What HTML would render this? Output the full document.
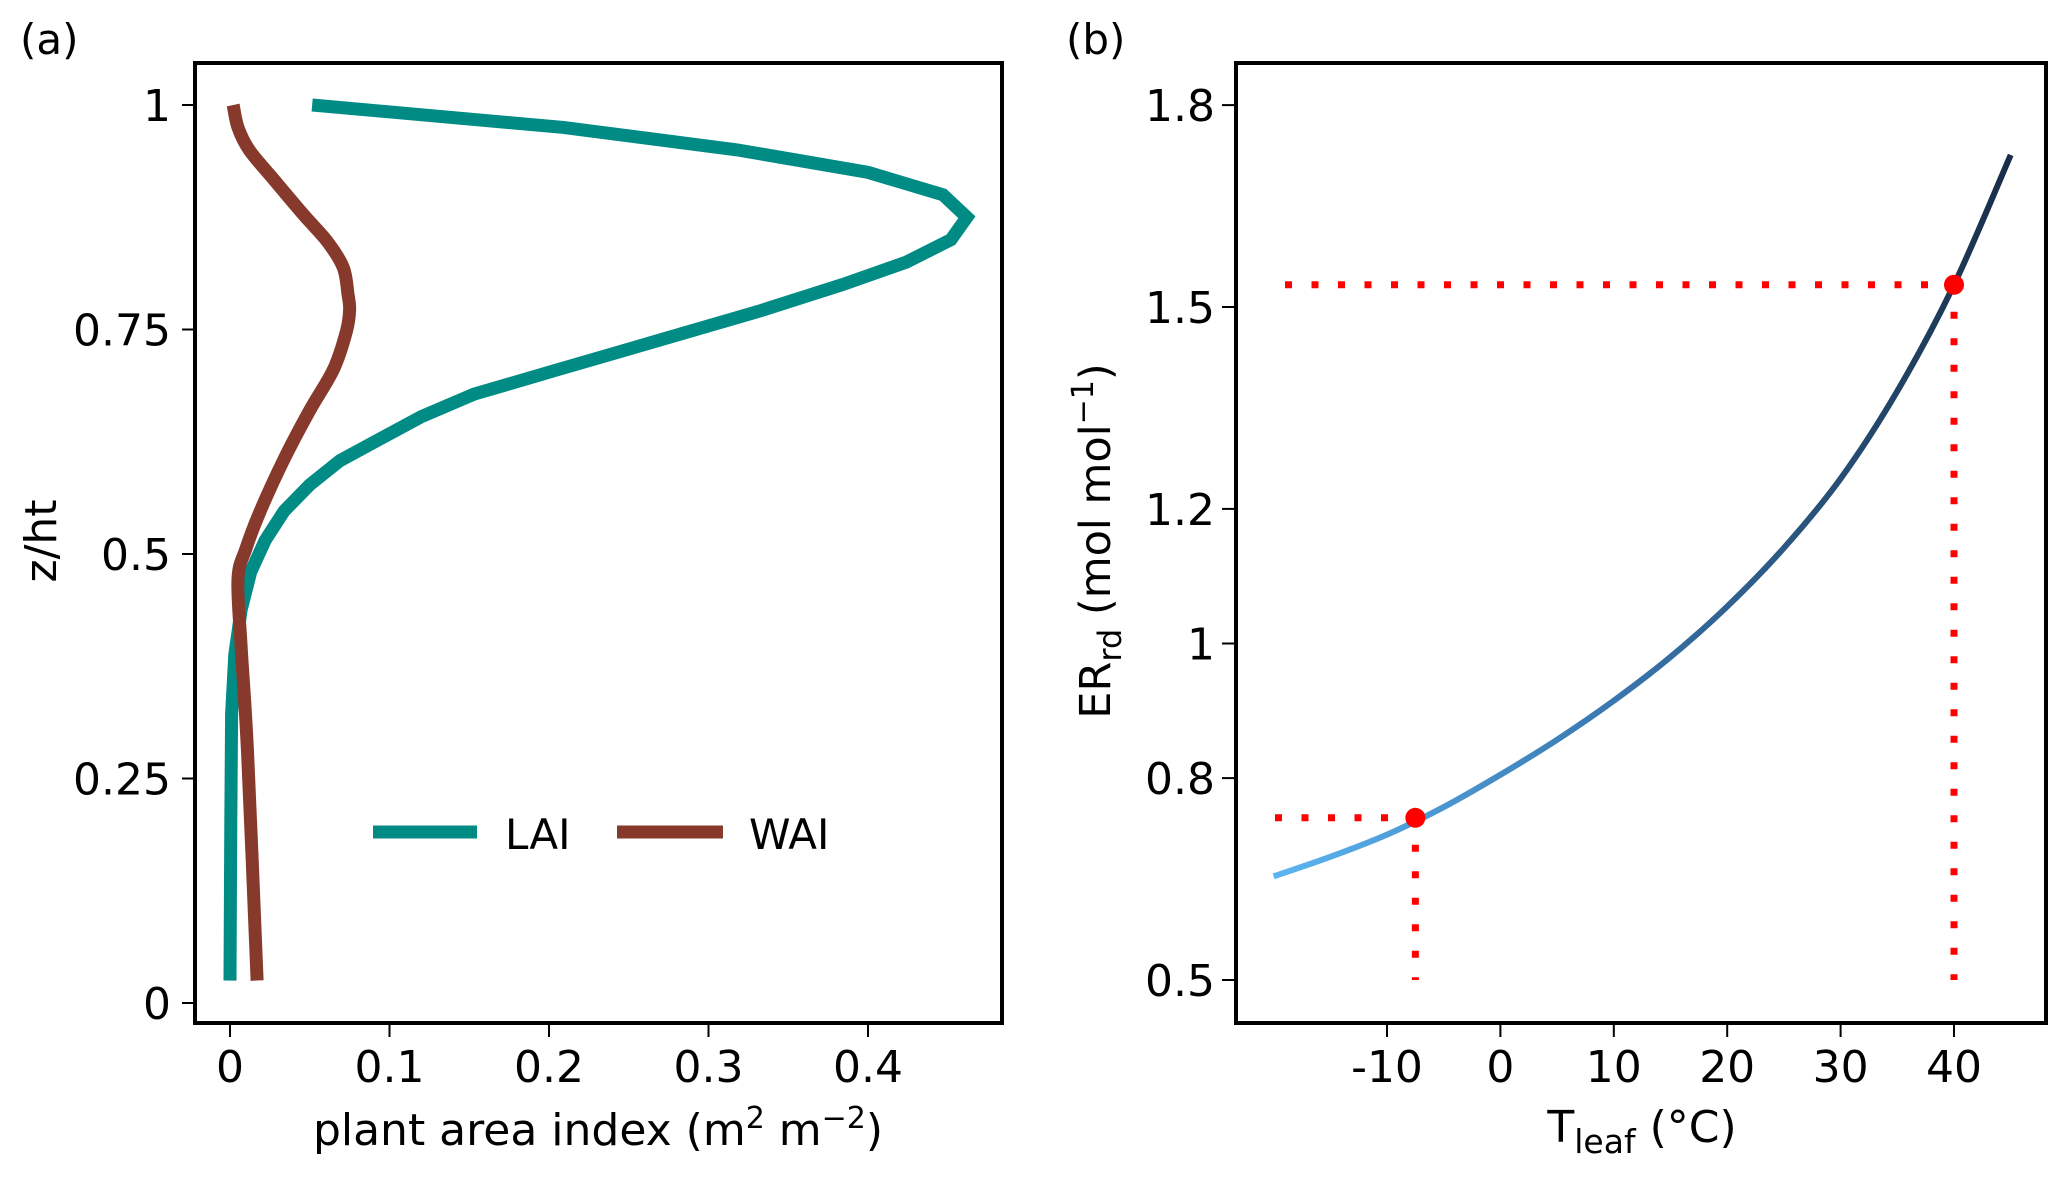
<!DOCTYPE html>
<html><head><meta charset="utf-8"><style>
html,body{margin:0;padding:0;background:#fff;}
svg text{font-family:"DejaVu Sans","Liberation Sans",sans-serif;fill:#000;}
</style></head><body>
<svg id="fig" width="2067" height="1180" viewBox="0 0 2067 1180" xmlns="http://www.w3.org/2000/svg">
<defs>
<linearGradient id="grad" x1="1270" y1="0" x2="2020" y2="0" gradientUnits="userSpaceOnUse">
<stop offset="0" stop-color="#5cb6f2"/><stop offset="0.45" stop-color="#3a78b0"/><stop offset="1" stop-color="#182c45"/>
</linearGradient>
</defs>
<g id="pa"></g>
<g id="pb"></g>
</svg>
<script>
// Panel (a) data
const zLevels = [1.0,0.975,0.95,0.925,0.9,0.875,0.85,0.825,0.8,0.77,0.738,0.704,0.678,0.653,0.63,0.604,0.577,0.548,0.515,0.48,0.438,0.388,0.322,0.2,0.1,0.025];
const laiValues = [0.0515,0.209,0.318,0.400,0.447,0.462,0.452,0.424,0.384,0.331,0.269,0.203,0.153,0.120,0.096,0.069,0.050,0.034,0.022,0.013,0.007,0.003,0.001,0.0005,0.0002,0.0];
const waiZ = [1.0,0.975,0.95,0.92,0.878,0.848,0.819,0.789,0.772,0.748,0.706,0.66,0.606,0.548,0.506,0.472,0.396,0.279,0.025];
const waiValues = [0.002,0.005,0.012,0.026,0.046,0.061,0.071,0.074,0.075,0.073,0.065,0.050,0.034,0.019,0.010,0.005,0.007,0.011,0.017];
const aXTicks = [0,0.1,0.2,0.3,0.4];
const aXTickLabels = ["0","0.1","0.2","0.3","0.4"];
const aYTicks = [0,0.25,0.5,0.75,1];
const aYTickLabels = ["0","0.25","0.5","0.75","1"];
// Panel (b) data
const tempValues = [-20,-15,-10,-5,0,5,10,15,20,25,30,35,40,45];
const errdValues = [0.654,0.683,0.716,0.757,0.805,0.857,0.915,0.98,1.055,1.142,1.245,1.375,1.533,1.726];
const markerT = [-7.5,40];
const markerE = [0.741,1.533];
const bXTicks = [-10,0,10,20,30,40];
const bXTickLabels = ["-10","0","10","20","30","40"];
const bYTicks = [0.5,0.8,1,1.2,1.5,1.8];
const bYTickLabels = ["0.5","0.8","1","1.2","1.5","1.8"];

const NS="http://www.w3.org/2000/svg";
function mk(parent,tag,attrs,text){const e=document.createElementNS(NS,tag);for(const k in attrs)e.setAttribute(k,attrs[k]);if(text!==undefined)e.textContent=text;parent.appendChild(e);return e;}
function smoothPath(P){
  let d='M'+P[0][0]+','+P[0][1];
  for(let i=0;i<P.length-1;i++){
    const p0=P[Math.max(0,i-1)],p1=P[i],p2=P[i+1],p3=P[Math.min(P.length-1,i+2)];
    d+=' C'+(p1[0]+(p2[0]-p0[0])/6)+','+(p1[1]+(p2[1]-p0[1])/6)+' '+(p2[0]-(p3[0]-p1[0])/6)+','+(p2[1]-(p3[1]-p1[1])/6)+' '+p2[0]+','+p2[1];
  }
  return d;
}

// ---- Panel A ----
const pa=document.getElementById('pa');
const ax=v=>230+v*1595;
const ay=v=>1003-v*898;
let t=mk(pa,'text',{x:20,y:54,'font-size':42},'(a)');


aXTicks.forEach((v,i)=>{
  let l=mk(pa,'line',{x1:ax(v),x2:ax(v),y1:1023,y2:1037,stroke:'#000','stroke-width':2});
  
  
  let tx=mk(pa,'text',{x:ax(v),y:1082,'font-size':44,'text-anchor':'middle'},aXTickLabels[i]);
  
  
});
aYTicks.forEach((v,i)=>{
  let l=mk(pa,'line',{x1:182,x2:195,y1:ay(v),y2:ay(v),stroke:'#000','stroke-width':2});
  
  
  let tx=mk(pa,'text',{x:171,y:ay(v)+16,'font-size':44,'text-anchor':'end'},aYTickLabels[i]);
  
  
});
let laiLine=mk(pa,'polyline',{points:zLevels.map((z,i)=>ax(laiValues[i])+','+ay(z)).join(' '),fill:'none',stroke:'#008b84','stroke-width':13});


let waiLine=mk(pa,'path',{d:smoothPath(waiZ.map((z,i)=>[ax(waiValues[i]),ay(z)])),fill:'none',stroke:'#873a2c','stroke-width':13});


let fa=mk(pa,'rect',{x:195,y:63,width:807,height:960,fill:'none',stroke:'#000','stroke-width':4});


let lg=mk(pa,'g',{});


let le1=mk(lg,'line',{x1:373,x2:477,y1:832,y2:832,stroke:'#008b84','stroke-width':13});


let lt1=mk(lg,'text',{x:505,y:849,'font-size':42},'LAI');


let le2=mk(lg,'line',{x1:617,x2:723,y1:832,y2:832,stroke:'#873a2c','stroke-width':13});


let lt2=mk(lg,'text',{x:749,y:849,'font-size':42},'WAI');


let xla=mk(pa,'text',{x:598,y:1145,'font-size':44,'text-anchor':'middle'});
xla.innerHTML='plant area index (m<tspan dy="-17" font-size="30">2</tspan><tspan dy="17"> m</tspan><tspan dy="-17" font-size="30">−2</tspan><tspan dy="17">)</tspan>';


let yla=mk(pa,'text',{x:0,y:0,'font-size':44,'text-anchor':'middle',transform:'translate(56,541) rotate(-90)'},'z/ht');



// ---- Panel B ----
const pb=document.getElementById('pb');
const bx=v=>1387+(v+10)*11.34;
const by=v=>980-(v-0.5)*673;
t=mk(pb,'text',{x:1066,y:54,'font-size':42},'(b)');


bXTicks.forEach((v,i)=>{
  let l=mk(pb,'line',{x1:bx(v),x2:bx(v),y1:1023,y2:1037,stroke:'#000','stroke-width':2});
  
  
  let tx=mk(pb,'text',{x:bx(v),y:1082,'font-size':44,'text-anchor':'middle'},bXTickLabels[i]);
  
  
});
bYTicks.forEach((v,i)=>{
  let l=mk(pb,'line',{x1:1222,x2:1236,y1:by(v),y2:by(v),stroke:'#000','stroke-width':2});
  
  
  let tx=mk(pb,'text',{x:1215,y:by(v)+16,'font-size':44,'text-anchor':'end'},bYTickLabels[i]);
  
  
});
let curve=mk(pb,'path',{d:smoothPath(tempValues.map((v,i)=>[bx(v),by(errdValues[i])])),fill:'none',stroke:'url(#grad)','stroke-width':6});


const hStart=[1275,1285];
markerT.forEach((tv,i)=>{
  let h=mk(pb,'line',{x1:hStart[i],x2:bx(tv)-8,y1:by(markerE[i]),y2:by(markerE[i]),stroke:'#ff0000','stroke-width':7,'stroke-dasharray':'7 19.5'});
  
  
  let v=mk(pb,'line',{x1:bx(tv),x2:bx(tv),y1:by(markerE[i])+27,y2:by(0.5),stroke:'#ff0000','stroke-width':7,'stroke-dasharray':'7 19.5'});
  
  
  let c=mk(pb,'circle',{cx:bx(tv),cy:by(markerE[i]),r:10,fill:'#ff0000'});
  
  
});
let fb=mk(pb,'rect',{x:1236,y:63,width:810,height:960,fill:'none',stroke:'#000','stroke-width':4});


let xlb=mk(pb,'text',{x:1642,y:1142,'font-size':44,'text-anchor':'middle'});
xlb.innerHTML='T<tspan dy="11" font-size="33">leaf</tspan><tspan dy="-11"> (°C)</tspan>';


let ylb=mk(pb,'text',{x:0,y:0,'font-size':43,'text-anchor':'middle',transform:'translate(1110,541) rotate(-90)'});
ylb.innerHTML='ER<tspan dy="11" font-size="32">rd</tspan><tspan dy="-11"> (mol mol</tspan><tspan dy="-17" font-size="30">−1</tspan><tspan dy="17">)</tspan>';


</script>
</body></html>
